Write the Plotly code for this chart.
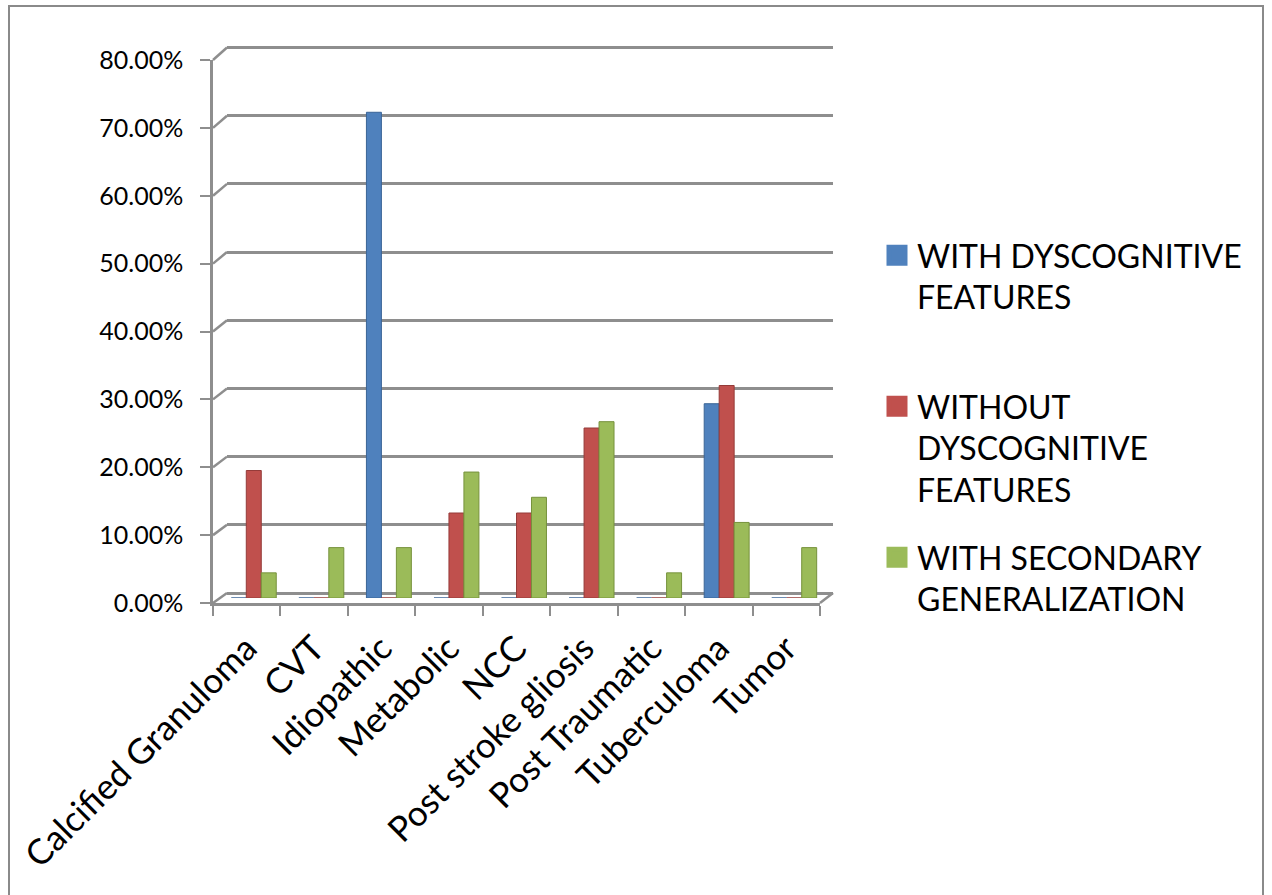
import plotly.graph_objects as go

# ---- data -------------------------------------------------------------
categories = ["Calcified Granuloma", "CVT", "Idiopathic", "Metabolic", "NCC",
              "Post stroke gliosis", "Post Traumatic", "Tuberculoma", "Tumor"]
series_names = ["WITH DYSCOGNITIVE<br>FEATURES",
                "WITHOUT<br>DYSCOGNITIVE<br>FEATURES",
                "WITH SECONDARY<br>GENERALIZATION"]
with_dyscognitive = [0.0, 0.0, 0.7143, 0.0, 0.0, 0.0, 0.0, 0.2857, 0.0]
without_dyscognitive = [0.1875, 0.0, 0.0, 0.125, 0.125, 0.25, 0.0, 0.3125, 0.0]
secondary_generalization = [0.037, 0.0741, 0.0741, 0.1852, 0.1481, 0.2593, 0.037, 0.1111, 0.0741]
y_ticks = [0, 0.1, 0.2, 0.3, 0.4, 0.5, 0.6, 0.7, 0.8]

colors = ["#4F81BD", "#C0504D", "#9BBB59"]
edge_colors = ["#3A6496", "#953B39", "#76923C"]

# ---- page geometry (pixels) -------------------------------------------
W, H = 1272, 895
FONT = "Lato"
GRID = "#8E8E8E"


def px(x):
    return x / W


def py(y):
    return 1 - y / H


# three planes of the pseudo-3D box: back wall, bar plane, front edge
back = dict(x0=227, x1=833, y0=593, y1=47.5)
mid = dict(x0=220, x1=828, y0=598, y1=54)
front = dict(x0=213, x1=820, y0=603, y1=60)
y_max = y_ticks[-1]
wall_pad = 1.03  # wall axis runs a little past the top gridline so it is kept


def plane_y(plane, v):
    return plane["y0"] - v / y_max * (plane["y0"] - plane["y1"])


fig = go.Figure()

# empty anchors so the wall and front-edge axes get rendered
fig.add_trace(go.Scatter(x=[0.5], y=[0], mode="markers", opacity=0,
                         hoverinfo="skip", showlegend=False, xaxis="x", yaxis="y"))
fig.add_trace(go.Scatter(x=categories, y=[0] * len(categories), mode="markers",
                         opacity=0, hoverinfo="skip", showlegend=False,
                         xaxis="x3", yaxis="y3"))

# bars (subplot x2/y2)
for name, vals, c, ec in zip(series_names,
                             [with_dyscognitive, without_dyscognitive, secondary_generalization],
                             colors, edge_colors):
    fig.add_trace(go.Bar(x=categories, y=vals, name=name, marker_color=c,
                         marker_line=dict(color=ec, width=1),
                         xaxis="x2", yaxis="y2", showlegend=False))

# legend entries, one legend box per series
for i, (name, c) in enumerate(zip(series_names, colors)):
    fig.add_trace(go.Scatter(x=[None], y=[None], mode="markers", name=name,
                             marker=dict(symbol="square", size=16, color=c,
                                         line=dict(color=c, width=5)),
                             xaxis="x2", yaxis="y2",
                             legend="legend" if i == 0 else f"legend{i + 1}"))

legend_tops = [228, 379, 530]
legend_common = dict(xanchor="left", yanchor="top", valign="top",
                     bgcolor="rgba(0,0,0,0)",
                     font=dict(family=FONT, size=32, color="#000000"))
layout_legends = {}
for i, top in enumerate(legend_tops):
    key = "legend" if i == 0 else f"legend{i + 1}"
    layout_legends[key] = dict(x=px(877), y=py(top), **legend_common)

# connectors between the front edge and back wall
shapes = []
for v in y_ticks:
    shapes.append(dict(type="line", xref="paper", yref="paper",
                       x0=px(front["x0"]), y0=py(plane_y(front, v)),
                       x1=px(back["x0"]), y1=py(plane_y(back, v)),
                       line=dict(color=GRID, width=2.5)))
shapes.append(dict(type="line", xref="paper", yref="paper",
                   x0=px(front["x1"]), y0=py(front["y0"]),
                   x1=px(back["x1"]), y1=py(back["y0"]),
                   line=dict(color=GRID, width=2.5)))
# chart-area border
shapes.append(dict(type="rect", xref="paper", yref="paper",
                   x0=px(9), x1=px(1263), y0=py(905), y1=py(6),
                   line=dict(color="#8A8A8A", width=2), fillcolor="rgba(0,0,0,0)",
                   layer="below"))

fig.update_layout(
    width=W, height=H,
    margin=dict(l=0, r=0, t=0, b=0, autoexpand=False),
    paper_bgcolor="white", plot_bgcolor="rgba(0,0,0,0)",
    barmode="group", bargap=0.335, bargroupgap=0,
    font=dict(family=FONT, color="#000000"),
    # back wall with gridlines
    xaxis=dict(domain=[px(back["x0"]), px(back["x1"])], anchor="y",
               showticklabels=False, showgrid=False, zeroline=False,
               ticks="", showline=False, range=[0, 1], automargin=False),
    yaxis=dict(domain=[py(back["y0"]), py(plane_y(back, y_max * wall_pad))], anchor="x",
               range=[0, y_max * wall_pad], tickvals=y_ticks, showticklabels=False,
               showgrid=True, gridcolor=GRID, gridwidth=2.5,
               zeroline=True, zerolinecolor=GRID, zerolinewidth=2.5,
               ticks="", showline=False, automargin=False),
    # bar plane
    xaxis2=dict(domain=[px(mid["x0"]), px(mid["x1"])], anchor="y2",
                type="category", categoryorder="array", categoryarray=categories,
                range=[-0.5, len(categories) - 0.5], visible=False, automargin=False),
    yaxis2=dict(domain=[py(mid["y0"]), py(mid["y1"])], anchor="x2",
                range=[0, y_max], visible=False, automargin=False),
    # front edge: axis lines, ticks and labels
    xaxis3=dict(domain=[px(front["x0"]), px(front["x1"])], anchor="y3",
                type="category", categoryorder="array", categoryarray=categories,
                range=[-0.5, len(categories) - 0.5],
                showline=True, linecolor=GRID, linewidth=2.5,
                ticks="outside", ticklen=10, tickwidth=2, tickcolor=GRID,
                tickson="boundaries", tickangle=-45, ticklabelstandoff=8,
                tickfont=dict(family=FONT, size=35, color="#000000"),
                showgrid=False, zeroline=False, automargin=False),
    yaxis3=dict(domain=[py(front["y0"]), py(front["y1"])], anchor="x3",
                range=[0, y_max], tickvals=y_ticks, tickformat=".2%",
                showline=True, linecolor=GRID, linewidth=2.5,
                ticks="outside", ticklen=10, tickwidth=2, tickcolor=GRID,
                ticklabelstandoff=12,
                tickfont=dict(family=FONT, size=25, color="#000000"),
                showgrid=False, zeroline=False, automargin=False),
    shapes=shapes,
    **layout_legends,
)

fig.write_html("out.html")
